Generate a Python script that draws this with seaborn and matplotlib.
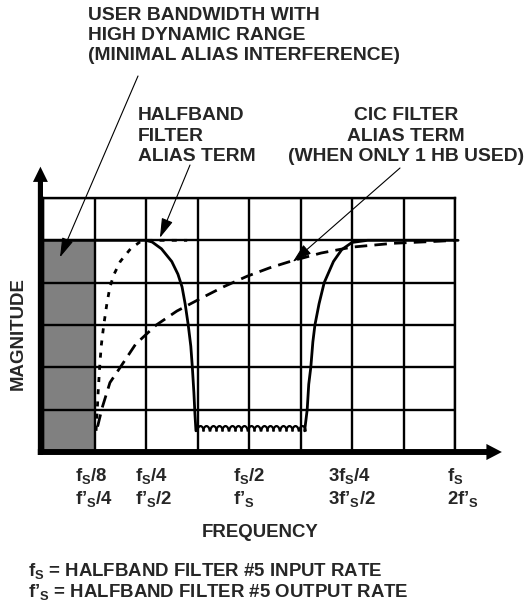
import matplotlib
matplotlib.use("Agg")
import matplotlib.pyplot as plt
from matplotlib.path import Path
import seaborn as sns

# x in units of fs/8, y in grid divisions (passband = 5)
halfband_x = [0.0, 1.0, 2.0, 2.12, 2.3, 2.5, 2.62, 2.7, 2.76, 2.82, 2.87, 2.9, 2.93, 2.95, 2.97]
halfband_y = [5.0, 5.0, 5.0, 4.96, 4.8, 4.5, 4.2, 3.9, 3.5, 3.0, 2.5, 2.0, 1.4, 0.9, 0.5]

image_x = [5.08, 5.11, 5.13, 5.16, 5.2, 5.24, 5.28, 5.36, 5.46, 5.64, 5.8, 6.0, 6.3, 8.06]
image_y = [0.5, 0.8, 1.0, 1.6, 2.0, 2.6, 3.0, 3.5, 4.0, 4.5, 4.78, 4.95, 5.0, 5.0]

ripple_x = [3.05, 3.17, 3.30, 3.42, 3.54, 3.67, 3.79, 3.91, 4.04,
            4.16, 4.29, 4.41, 4.53, 4.66, 4.78, 4.90, 5.03]
ripple_y = [0.5] * len(ripple_x)

hb_alias_x = [1.03, 1.05, 1.07, 1.1, 1.13, 1.18, 1.24, 1.3, 1.38, 1.5, 1.7, 1.88, 2.0, 2.8]
hb_alias_y = [0.5, 0.9, 1.4, 2.0, 2.5, 3.0, 3.5, 3.9, 4.2, 4.5, 4.8, 4.96, 5.0, 5.0]

cic_x = [1.06, 1.15, 1.3, 1.5, 1.8, 2.2, 2.6, 3.05, 3.5, 3.96, 4.4, 4.85, 5.4, 6.0, 6.8, 7.7, 8.0]
cic_y = [0.6, 1.05, 1.64, 2.0, 2.55, 3.0, 3.33, 3.62, 3.9, 4.15, 4.35, 4.52, 4.7, 4.84, 4.93, 4.98, 5.0]

user_band_x = [0.0, 1.0]
user_band_top = 5.0

tick_pos = [1, 2, 4, 6, 8]
tick_row1 = ["$f_S$/8", "$f_S$/4", "$f_S$/2", "3$f_S$/4", "$f_S$"]
tick_row2 = ["$f’_S$/4", "$f’_S$/2", "$f’_S$", "3$f’_S$/2", "2$f’_S$"]

user_text = ["USER BANDWIDTH WITH", "HIGH DYNAMIC RANGE", "(MINIMAL ALIAS INTERFERENCE)"]
hb_text = ["HALFBAND", "FILTER", "ALIAS TERM"]
cic_text = ["CIC FILTER", "ALIAS TERM", "(WHEN ONLY 1 HB USED)"]
notes = ["$f_S$ = HALFBAND FILTER #5 INPUT RATE", "$f’_S$ = HALFBAND FILTER #5 OUTPUT RATE"]

sns.set_style("white")
plt.rcParams["font.family"] = ["Liberation Sans", "DejaVu Sans"]
plt.rcParams["mathtext.fontset"] = "custom"
plt.rcParams["mathtext.rm"] = "Liberation Sans:bold"
plt.rcParams["mathtext.it"] = "Liberation Sans:bold"
plt.rcParams["mathtext.bf"] = "Liberation Sans:bold"

W, H = 524, 605
fig = plt.figure(figsize=(W / 100, H / 100), dpi=100)
ax = fig.add_axes([43 / W, 1 - 452 / H, 412 / W, 254 / H])
ax.set_xlim(0, 8)
ax.set_ylim(0, 6)
ax.set_xticks(range(9))
ax.set_yticks(range(7))
ax.tick_params(length=0, labelbottom=False, labelleft=False)
ax.grid(True, color="black", lw=1.7)
ax.set_axisbelow(True)
for sp in ax.spines.values():
    sp.set_color("black")
    sp.set_linewidth(1.7)

ax.fill_between(user_band_x, 0, user_band_top, color="#808080", lw=0, zorder=0.2)

sns.lineplot(x=halfband_x, y=halfband_y, ax=ax, color="black", lw=2.0, sort=False, estimator=None)
sns.lineplot(x=image_x, y=image_y, ax=ax, color="black", lw=2.0, sort=False, estimator=None)
ax.lines[-1].set_clip_on(False)
sns.lineplot(x=hb_alias_x, y=hb_alias_y, ax=ax, color="black", lw=2.0, sort=False,
             estimator=None, linestyle=(0, (1.8, 2.6)))
sns.lineplot(x=cic_x, y=cic_y, ax=ax, color="black", lw=2.0, sort=False,
             estimator=None, linestyle=(0, (4.5, 2.6)))

arc = Path.arc(0, 180)
arch = Path(arc.vertices * [1, 1.7], arc.codes)
ax.plot(ripple_x, ripple_y, ls="none", marker=arch, ms=7.8, mfc="none",
        mec="black", mew=1.6)

# axis arrows
ax.arrow(-0.05, -0.07, 0, 6.81, width=0.1, head_width=0.29, head_length=0.36,
         length_includes_head=True, fc="black", lw=0, clip_on=False, zorder=5)
ax.arrow(-0.1, 0, 9.01, 0, width=0.14, head_width=0.38, head_length=0.3,
         length_includes_head=True, fc="black", lw=0, clip_on=False, zorder=5)

aprops = dict(arrowstyle="-|>,head_length=1.2,head_width=0.36", color="black",
              lw=0.8, shrinkA=0, shrinkB=0, mutation_scale=10)
ax.annotate("", xy=(0.33, 4.6), xytext=(138 / W, 1 - 76 / H),
            textcoords="figure fraction", arrowprops=aprops, zorder=6)
ax.annotate("", xy=(2.27, 5.06), xytext=(190 / W, 1 - 165 / H),
            textcoords="figure fraction", arrowprops=aprops, zorder=6)
ax.annotate("", xy=(4.85, 4.49), xytext=(400 / W, 1 - 168 / H),
            textcoords="figure fraction", arrowprops=aprops, zorder=6)


def put(px, py, s, fs=13.4, **kw):
    fig.text(px / W, 1 - py / H, s, fontsize=fs, fontweight="bold", **kw)


for i, s in enumerate(user_text):
    put(88, 15 + 20.5 * i, s, fs=13.9, va="center")
for i, s in enumerate(hb_text):
    put(138, 116 + 20.5 * i, s, fs=13.9, va="center")
for i, s in enumerate(cic_text):
    put(406, 116 + 20.5 * i, s, fs=13.9, va="center", ha="center")

label_left = [75, 135, 233, 328, 447]
for i in range(len(tick_pos)):
    put(label_left[i], 481, tick_row1[i], va="baseline")
    put(label_left[i], 504, tick_row2[i], va="baseline")

put(260, 537, "FREQUENCY", ha="center", va="baseline")
put(18, 334, "MAGNITUDE", rotation=90, ha="center", va="center")
put(28, 576, notes[0], va="baseline")
put(28, 597, notes[1], va="baseline")

fig.savefig("out.png", dpi=100)
